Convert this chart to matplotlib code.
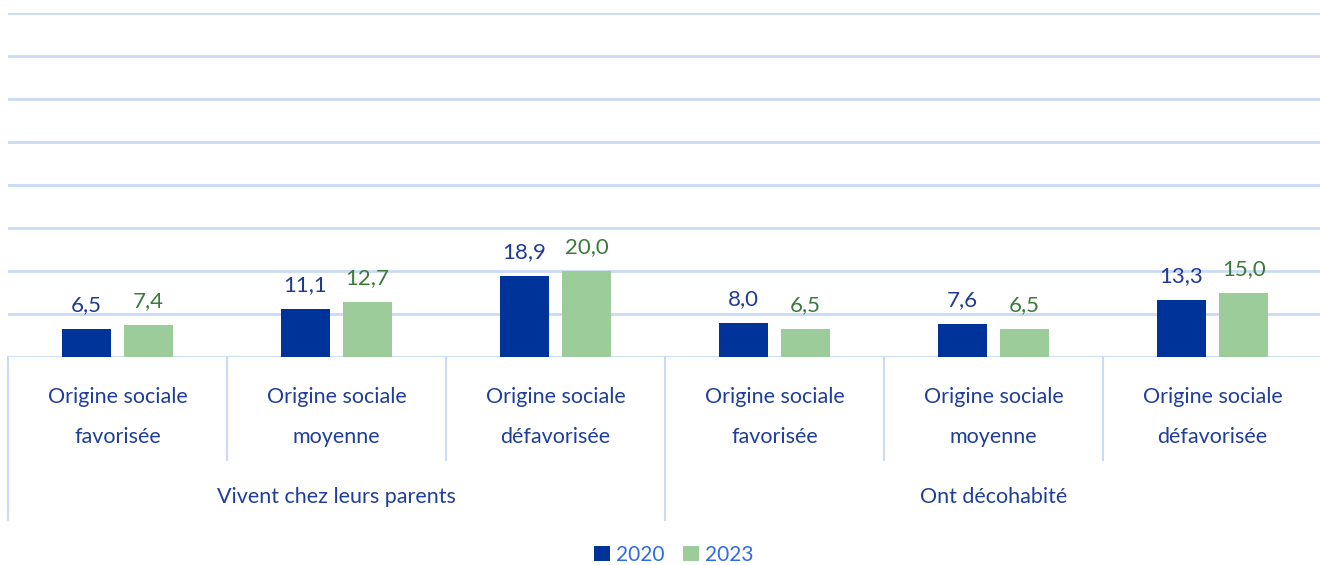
import numpy as np
import matplotlib.pyplot as plt
import matplotlib.transforms as mtransforms

categories = ["Origine sociale\nfavorisée", "Origine sociale\nmoyenne", "Origine sociale\ndéfavorisée",
              "Origine sociale\nfavorisée", "Origine sociale\nmoyenne", "Origine sociale\ndéfavorisée"]
groups = ["Vivent chez leurs parents", "Ont décohabité"]
v2020 = [6.5, 11.1, 18.9, 8.0, 7.6, 13.3]
v2023 = [7.4, 12.7, 20.0, 6.5, 6.5, 15.0]

c2020 = "#003399"
c2023 = "#9BCC9A"
grid_c = "#CADAF7"
txt_blue = "#1F3E9A"

plt.rcParams["font.family"] = ["Lato", "DejaVu Sans"]

W, H = 1320, 565
fig = plt.figure(figsize=(W / 100, H / 100), dpi=100)
ax = fig.add_axes([8 / W, 1 - 357 / H, 1314 / W, 344 / H])

x = np.arange(len(categories))
bw = 0.224
off = 0.142
ax.bar(x - off, v2020, bw, color=c2020, label="2020", zorder=3)
ax.bar(x + off, v2023, bw, color=c2023, label="2023", zorder=3)

for xi, a, b in zip(x, v2020, v2023):
    ax.annotate(f"{a:.1f}".replace(".", ","), (xi - off, a), xytext=(0, 10), textcoords="offset points",
                ha="center", va="bottom", fontsize=16, color="#1F3A93")
    ax.annotate(f"{b:.1f}".replace(".", ","), (xi + off, b), xytext=(0, 10), textcoords="offset points",
                ha="center", va="bottom", fontsize=16, color="#3C7A3A")

ax.set_xlim(-0.5, 5.5)
ax.set_ylim(0, 80)
ax.set_yticks(np.arange(0, 81, 10))
ax.yaxis.grid(True, color=grid_c, linewidth=2)
ax.set_axisbelow(True)
ax.tick_params(left=False, labelleft=False, bottom=False, labelbottom=False)
for s in ax.spines.values():
    s.set_visible(False)

trans = mtransforms.blended_transform_factory(ax.transData, ax.transAxes)
ph = 344.0
for xs in np.arange(-0.5, 6.0, 1.0):
    full = xs in (-0.5, 2.5, 5.5)
    ybot = -(520 - 357) / ph if full else -(460 - 357) / ph
    ax.plot([xs, xs], [0, ybot], transform=trans, color=grid_c, linewidth=1.5, clip_on=False)

for xi, lab in zip(x, categories):
    l1, l2 = lab.split("\n")
    ax.text(xi, -(397 - 357) / ph, l1, transform=trans, ha="center", va="center", fontsize=15.5, color=txt_blue)
    ax.text(xi, -(437 - 357) / ph, l2, transform=trans, ha="center", va="center", fontsize=15.5, color=txt_blue)

for gi, g in enumerate(groups):
    ax.text(1 + 3 * gi, -(497 - 357) / ph, g, transform=trans, ha="center", va="center", fontsize=15.5, color=txt_blue)

leg = fig.legend(loc="center", bbox_to_anchor=(674 / W, 1 - 555 / H), ncol=2, frameon=False,
                 handlelength=0.75, handleheight=0.75, handletextpad=0.3, columnspacing=0.9, fontsize=15)
for t in leg.get_texts():
    t.set_color("#2E6BE6")

fig.savefig("out.png", dpi=100)
